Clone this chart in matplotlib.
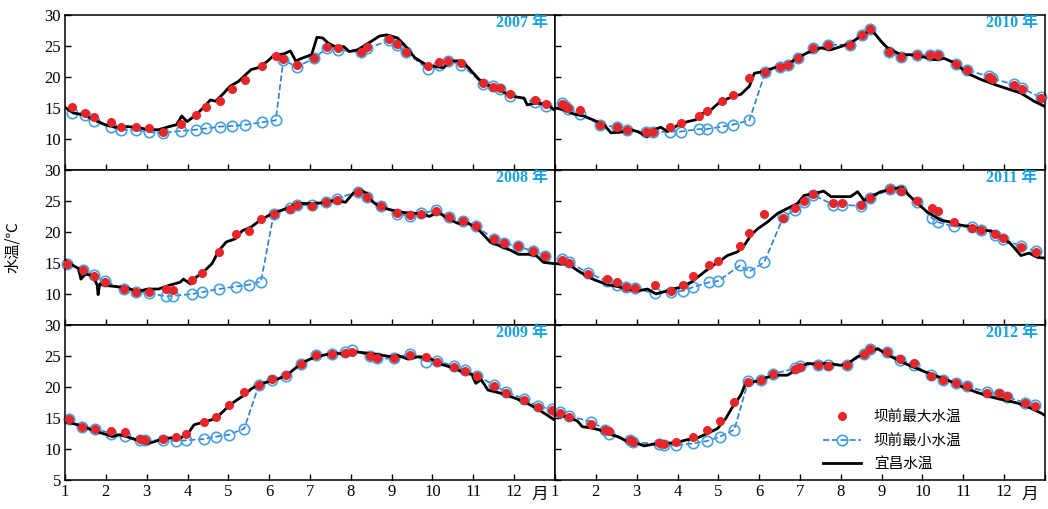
import matplotlib
matplotlib.use('Agg')
import matplotlib.pyplot as plt

# ─── Data (month as decimal, water temperature in °C) ───
# 宜昌水温: daily Yichang series, read at irregular points off the picture
YC_M_2007 = [1.0, 1.2, 1.46, 1.72, 1.98, 2.24, 2.51, 2.77, 3.03, 3.29, 3.55, 3.73, 3.86, 3.99, 4.21,
             4.38, 4.56, 4.69, 4.86, 5.04, 5.25, 5.56, 5.73, 5.95, 6.13, 6.35, 6.52, 6.65, 6.83, 7.04,
             7.17, 7.31, 7.44, 7.61, 7.83, 7.96, 8.18, 8.44, 8.7, 8.88, 9.14, 9.31, 9.57, 9.84, 10.05,
             10.27, 10.45, 10.71, 10.88, 11.14, 11.32, 11.67, 11.93, 12.24, 12.32, 12.54, 12.8, 12.98]
YC_T_2007 = [15.1, 14.2, 13.9, 13.1, 12.3, 11.9, 12.0, 11.9, 11.5, 11.5, 12.0, 12.3, 13.7, 12.8, 13.9,
             15.0, 16.3, 16.1, 17.2, 18.5, 19.3, 21.2, 21.5, 22.5, 23.6, 23.7, 24.2, 22.6, 23.1, 23.6,
             26.4, 26.3, 25.5, 24.9, 24.9, 24.1, 24.4, 25.5, 26.6, 26.8, 26.3, 25.2, 23.1, 22.0, 21.7,
             21.5, 22.6, 22.6, 21.5, 19.6, 18.8, 17.8, 16.9, 16.6, 15.5, 15.8, 15.6, 14.7]
YC_M_2008 = [1.02, 1.20, 1.33, 1.39, 1.50, 1.68, 1.79, 1.81, 1.85, 1.98, 2.24, 2.51, 2.77, 3.03, 3.29,
             3.55, 3.82, 3.90, 4.08, 4.21, 4.38, 4.60, 4.77, 4.95, 5.17, 5.34, 5.56, 5.78, 6.08, 6.43,
             6.69, 7.04, 7.31, 7.61, 7.87, 8.05, 8.22, 8.40, 8.53, 8.70, 8.96, 9.23, 9.49, 9.75, 9.92,
             10.14, 10.36, 10.62, 10.88, 11.14, 11.41, 11.67, 11.93, 12.10, 12.37, 12.54, 12.72, 12.98]
YC_T_2008 = [15.4, 14.6, 14.1, 12.4, 13.2, 13.0, 11.4, 9.9, 11.6, 11.4, 11.2, 11.0, 10.4, 10.8, 10.8,
             11.4, 11.9, 12.4, 11.6, 12.7, 13.5, 14.9, 17.0, 18.4, 18.9, 20.2, 20.8, 21.9, 23.0, 23.8,
             24.6, 24.6, 24.7, 25.1, 24.8, 26.2, 26.8, 26.2, 24.9, 24.1, 23.6, 23.2, 23.0, 23.0, 22.5,
             23.2, 22.2, 21.4, 21.4, 20.3, 18.4, 17.7, 17.0, 16.4, 16.4, 16.2, 15.1, 14.9]
YC_M_2009 = [1.0, 1.20, 1.46, 1.72, 1.98, 2.16, 2.33, 2.51, 2.68, 2.86, 3.03, 3.20, 3.38, 3.60, 3.82,
             3.99, 4.16, 4.43, 4.69, 4.91, 5.12, 5.39, 5.56, 5.75, 6.0, 6.26, 6.43, 6.69, 6.87, 7.04,
             7.31, 7.61, 7.83, 8.09, 8.35, 8.70, 8.96, 9.14, 9.40, 9.66, 9.92, 10.19, 10.45, 10.71, 10.97,
             11.06, 11.19, 11.36, 11.67, 12.02, 12.28, 12.54, 12.80, 12.96]
YC_T_2009 = [14.4, 14.1, 13.6, 12.9, 12.4, 12.0, 12.3, 12.0, 11.6, 11.3, 10.9, 11.2, 11.6, 11.8, 11.8,
             12.3, 13.9, 14.4, 14.9, 16.3, 17.5, 18.7, 19.7, 20.4, 20.9, 21.4, 21.9, 23.3, 24.1, 24.6,
             25.1, 25.5, 25.3, 25.7, 25.5, 25.2, 24.9, 25.1, 24.5, 24.9, 24.7, 23.7, 23.2, 22.5, 22.0,
             20.6, 21.2, 19.5, 19.0, 18.2, 17.5, 16.6, 15.5, 14.8]
YC_M_2010 = [1.02, 1.22, 1.47, 1.71, 1.96, 2.20, 2.37, 2.61, 2.86, 3.02, 3.25, 3.43, 3.59, 3.76, 4.00,
             4.24, 4.45, 4.57, 4.82, 5.06, 5.39, 5.55, 5.76, 5.88, 6.12, 6.37, 6.69, 6.94, 7.18, 7.51,
             7.76, 8.0, 8.24, 8.49, 8.69, 8.82, 8.98, 9.14, 9.47, 9.71, 10.04, 10.29, 10.53, 10.78, 11.10,
             11.43, 11.76, 12.08, 12.41, 12.73, 12.98]
YC_T_2010 = [15.0, 14.7, 14.0, 13.7, 13.0, 12.3, 11.0, 11.1, 11.5, 11.2, 10.4, 11.5, 11.9, 11.2, 12.2,
             12.8, 13.1, 14.0, 14.7, 16.1, 16.9, 17.2, 18.5, 20.6, 20.9, 21.5, 22.0, 23.1, 23.9, 24.7,
             24.4, 24.9, 25.5, 26.6, 27.4, 27.1, 25.8, 24.7, 23.6, 23.6, 23.2, 22.8, 23.0, 22.3, 20.6,
             19.6, 18.8, 18.1, 17.4, 16.1, 15.3]
YC_M_2011 = [1.02, 1.14, 1.31, 1.55, 1.80, 2.0, 2.29, 2.53, 2.78, 3.02, 3.27, 3.47, 3.63, 3.88, 4.08,
             4.33, 4.57, 4.82, 5.06, 5.22, 5.47, 5.63, 5.80, 5.96, 6.20, 6.45, 6.69, 6.94, 7.10, 7.35,
             7.58, 7.76, 8.0, 8.24, 8.41, 8.57, 8.73, 8.98, 9.31, 9.51, 9.67, 9.88, 10.12, 10.45, 10.69,
             10.94, 11.27, 11.43, 11.67, 11.92, 12.16, 12.41, 12.61, 12.82, 12.98]
YC_T_2011 = [14.9, 14.8, 14.9, 13.8, 12.8, 12.2, 11.5, 11.2, 10.8, 10.5, 10.8, 10.0, 10.3, 10.8, 11.1,
             11.9, 13.1, 14.4, 15.4, 16.2, 16.8, 17.8, 19.5, 20.5, 21.6, 23.0, 23.8, 24.6, 25.9, 26.2,
             26.6, 25.7, 25.7, 25.7, 26.5, 25.1, 25.7, 26.5, 27.0, 27.2, 25.9, 24.6, 23.2, 21.9, 21.6,
             21.1, 20.8, 20.3, 20.2, 19.2, 18.1, 16.2, 16.6, 15.9, 15.8]
YC_M_2012 = [1.02, 1.31, 1.55, 1.67, 1.88, 2.08, 2.29, 2.53, 2.78, 3.02, 3.18, 3.43, 3.76, 4.0, 4.24,
             4.49, 4.73, 4.98, 5.18, 5.35, 5.55, 5.67, 5.92, 6.12, 6.37, 6.69, 6.94, 7.18, 7.43, 7.67,
             8.0, 8.16, 8.41, 8.65, 8.90, 9.14, 9.47, 9.71, 10.04, 10.37, 10.69, 11.02, 11.35, 11.67, 12.0,
             12.33, 12.65, 12.90, 12.98]
YC_T_2012 = [15.5, 15.2, 14.5, 13.6, 13.4, 13.1, 12.5, 12.0, 11.2, 10.9, 10.5, 10.8, 10.9, 11.1, 11.5,
             11.8, 12.5, 13.3, 14.9, 16.8, 18.7, 20.6, 20.9, 21.4, 21.9, 21.9, 22.9, 23.8, 23.7, 23.8,
             23.5, 23.7, 24.9, 25.4, 26.2, 25.2, 24.1, 23.4, 22.5, 21.7, 20.9, 19.9, 19.1, 18.4, 17.9,
             17.4, 16.6, 15.8, 15.5]

# 坝前: dam-front profile dates, max and min temperature
DAM_M_2007 = [1.17, 1.48, 1.70, 2.13, 2.38, 2.75, 3.06, 3.40, 3.83, 4.20, 4.45, 4.79, 5.08, 5.42, 5.83,
              6.16, 6.35, 6.67, 7.09, 7.42, 7.68, 8.24, 8.40, 8.94, 9.12, 9.36, 9.88, 10.16, 10.39, 10.71,
              11.23, 11.47, 11.66, 11.91, 12.51, 12.78]
MAX_2007 = [15.1, 14.2, 13.5, 12.8, 12.0, 11.9, 11.7, 11.2, 12.4, 13.8, 15.1, 16.1, 18.0, 19.5, 21.7,
            23.4, 22.9, 22.0, 23.0, 24.9, 24.7, 24.1, 24.8, 26.1, 25.3, 24.1, 21.8, 22.4, 22.6, 22.3,
            19.0, 18.4, 18.3, 17.2, 16.3, 15.7]
MIN_2007 = [14.2, 13.9, 12.9, 11.9, 11.5, 11.4, 11.1, 11.0, 11.3, 11.5, 11.7, 12.0, 12.1, 12.3, 12.7,
            13.0, 22.8, 21.6, 23.0, 24.7, 24.4, 24.0, 24.6, 25.9, 25.1, 24.0, 21.3, 21.9, 22.6, 22.0,
            18.9, 18.5, 18.0, 17.0, 16.0, 15.3]
DAM_M_2008 = [1.04, 1.44, 1.70, 1.97, 2.44, 2.75, 3.06, 3.47, 3.64, 4.12, 4.36, 4.76, 5.18, 5.51, 5.80,
              6.11, 6.50, 6.69, 7.06, 7.39, 7.65, 8.18, 8.40, 8.73, 9.12, 9.44, 9.71, 10.08, 10.40, 10.75,
              11.06, 11.51, 11.76, 12.09, 12.47, 12.76]
MAX_2008 = [14.9, 13.8, 12.9, 11.9, 10.8, 10.4, 10.3, 10.8, 10.6, 12.3, 13.4, 16.8, 19.6, 20.2, 22.1,
            22.9, 23.7, 24.3, 24.2, 24.8, 25.2, 26.4, 25.6, 24.2, 23.0, 22.7, 22.9, 23.4, 22.4, 21.8,
            20.9, 18.9, 18.2, 17.7, 16.9, 16.1]
MIN_2008 = [14.9, 13.9, 13.0, 12.1, 10.8, 10.4, 10.2, 9.6, 9.7, 10.0, 10.3, 10.8, 11.2, 11.5, 12.0,
            22.9, 23.8, 24.4, 24.3, 24.9, 25.4, 26.5, 25.6, 24.2, 22.9, 22.6, 23.0, 23.5, 22.4, 21.8,
            20.9, 18.9, 18.2, 17.7, 16.9, 16.2]
DAM_M_2009 = [1.11, 1.42, 1.74, 2.13, 2.46, 2.83, 2.97, 3.40, 3.73, 3.97, 4.40, 4.69, 5.02, 5.39, 5.75,
              6.07, 6.40, 6.78, 7.15, 7.55, 7.85, 8.04, 8.48, 8.64, 9.05, 9.46, 9.85, 10.12, 10.52, 10.80,
              11.10, 11.51, 11.80, 12.24, 12.58, 12.93, 13.05]
MAX_2009 = [14.8, 13.5, 13.3, 12.9, 12.7, 11.6, 11.4, 11.6, 12.0, 12.5, 14.4, 15.1, 17.1, 19.2, 20.3,
            21.3, 21.9, 23.7, 25.2, 25.3, 25.5, 25.7, 25.0, 24.7, 24.7, 25.2, 24.9, 24.0, 23.3, 22.6,
            21.7, 20.2, 19.1, 17.9, 16.8, 16.3, 15.7]
MIN_2009 = [14.9, 13.6, 13.3, 12.5, 12.1, 11.5, 11.4, 11.4, 11.3, 11.4, 11.6, 12.0, 12.3, 13.3, 20.4,
            21.2, 21.8, 23.7, 25.1, 25.3, 25.6, 25.9, 25.0, 24.6, 24.6, 25.4, 24.1, 24.2, 23.4, 22.7,
            21.8, 20.3, 19.2, 18.1, 16.9, 16.4, 15.9]
DAM_M_2010 = [1.18, 1.24, 1.31, 1.62, 2.11, 2.51, 2.76, 3.22, 3.39, 3.82, 4.08, 4.53, 4.72, 5.10, 5.35,
              5.76, 6.15, 6.51, 6.71, 6.96, 7.33, 7.69, 8.22, 8.53, 8.72, 9.18, 9.47, 9.86, 10.19, 10.39,
              10.82, 11.09, 11.63, 11.69, 12.24, 12.43, 12.90]
MAX_2010 = [15.65, 15.3, 15.0, 14.6, 12.3, 11.9, 11.5, 11.2, 11.2, 12.0, 12.6, 13.7, 14.5, 16.2, 17.1,
            19.8, 20.8, 21.6, 21.9, 23.1, 24.6, 25.2, 25.2, 26.8, 27.8, 24.1, 23.2, 23.6, 23.5, 23.5,
            22.1, 21.1, 20.0, 19.7, 18.7, 18.1, 16.6]
MIN_2010 = [15.8, 15.4, 14.9, 14.0, 12.3, 11.9, 11.4, 11.1, 11.1, 11.2, 11.2, 11.6, 11.6, 12.0, 12.3,
            13.0, 20.8, 21.6, 21.9, 23.1, 24.6, 25.2, 25.2, 26.8, 27.8, 24.1, 23.2, 23.6, 23.5, 23.5,
            22.1, 21.1, 20.1, 19.8, 18.8, 18.2, 16.7]
DAM_M_2011 = [1.18, 1.35, 1.81, 2.27, 2.53, 2.73, 2.96, 3.45, 3.85, 4.14, 4.38, 4.78, 5.00, 5.53, 5.76,
              6.12, 6.59, 6.87, 7.09, 7.31, 7.82, 8.02, 8.49, 8.72, 9.21, 9.47, 9.86, 10.24, 10.37, 10.76,
              11.22, 11.43, 11.78, 11.98, 12.41, 12.78]
MAX_2011 = [15.5, 15.0, 13.2, 12.4, 11.9, 11.2, 11.0, 11.4, 10.5, 11.5, 12.9, 14.6, 15.3, 17.7, 19.9,
            22.9, 22.3, 23.8, 25.0, 26.1, 24.6, 24.7, 24.4, 25.5, 26.9, 26.6, 25.0, 23.9, 23.4, 21.6,
            20.6, 20.4, 19.6, 19.1, 17.6, 16.8]
MIN_2011 = [15.7, 15.1, 13.4, 12.1, 11.5, 11.2, 10.9, 10.1, 10.4, 10.5, 11.1, 11.9, 12.1, 14.6, 13.6,
            15.1, 22.4, 23.5, 24.9, 26.0, 24.4, 24.4, 24.2, 25.5, 26.9, 26.8, 24.9, 22.2, 21.6, 20.9,
            20.8, 20.4, 19.5, 18.9, 17.7, 16.9]
DAM_M_2012 = [1.13, 1.35, 1.89, 2.23, 2.33, 2.84, 2.90, 3.55, 3.67, 3.96, 4.39, 4.73, 5.04, 5.39, 5.73,
              6.04, 6.35, 6.87, 7.0, 7.43, 7.69, 8.16, 8.57, 8.72, 9.12, 9.44, 9.78, 10.20, 10.51, 10.81,
              11.09, 11.59, 11.88, 12.06, 12.51, 12.76]
MAX_2012 = [15.8, 15.2, 14.0, 13.0, 12.9, 11.5, 11.2, 10.9, 10.8, 11.2, 11.9, 13.0, 14.5, 17.6, 20.8,
            21.1, 22.1, 22.9, 23.3, 23.5, 23.4, 23.5, 25.3, 26.1, 25.6, 24.5, 23.8, 21.8, 21.2, 20.6,
            20.1, 19.1, 19.0, 18.5, 17.4, 17.0]
MIN_2012 = [15.9, 15.3, 14.4, 13.1, 12.5, 11.4, 11.1, 10.8, 10.7, 10.6, 10.9, 11.3, 12.0, 13.1, 20.9,
            21.1, 22.1, 23.0, 23.4, 23.6, 23.5, 23.6, 25.4, 26.2, 25.7, 24.4, 23.6, 21.9, 21.2, 20.6,
            20.1, 19.2, 18.9, 18.4, 17.5, 17.1]

YEARS = [2007, 2010, 2008, 2011, 2009, 2012]
MONTH_TICKS = list(range(1, 14))
MONTH_LABELS = [str(m) for m in range(1, 13)] + ['']
TEMP_TICKS = [5, 10, 15, 20, 25, 30]

SERIES = {
    2007: (YC_M_2007, YC_T_2007, DAM_M_2007, MAX_2007, MIN_2007),
    2008: (YC_M_2008, YC_T_2008, DAM_M_2008, MAX_2008, MIN_2008),
    2009: (YC_M_2009, YC_T_2009, DAM_M_2009, MAX_2009, MIN_2009),
    2010: (YC_M_2010, YC_T_2010, DAM_M_2010, MAX_2010, MIN_2010),
    2011: (YC_M_2011, YC_T_2011, DAM_M_2011, MAX_2011, MIN_2011),
    2012: (YC_M_2012, YC_T_2012, DAM_M_2012, MAX_2012, MIN_2012),
}

# ─── Style ───
RED = '#e8262a'
BLUE_EDGE = '#45a2e0'
BLUE_LINE = '#2f7fcc'
TITLE_BLUE = '#17a3e2'
SERIF = ['Liberation Serif', 'DejaVu Serif']
CJK = ['Noto Sans CJK SC', 'DejaVu Sans']

W, H = 1048, 509
fig = plt.figure(figsize=(W / 100, H / 100), dpi=100)

LEFTS = [65, 555]
RIGHT = 1045
TOPS = [15, 170, 325]
PH = 155

for idx, year in enumerate(YEARS):
    row, col = divmod(idx, 2)
    x0 = LEFTS[col]
    x1 = LEFTS[1] if col == 0 else RIGHT
    ax = fig.add_axes([x0 / W, 1 - (TOPS[row] + PH) / H, (x1 - x0) / W, PH / H])
    yc_m, yc_t, dm, tmax, tmin = SERIES[year]

    ax.plot(dm, tmin, ls='--', lw=1.2, color=BLUE_LINE, marker='o', ms=7.5,
            mfc='none', mec=BLUE_EDGE, mew=1.2, zorder=2, clip_on=False,
            label='坝前最小水温')
    ax.plot(yc_m, yc_t, color='black', lw=2.0, zorder=3, label='宜昌水温')
    ax.plot(dm, tmax, ls='none', marker='o', ms=5.5, color=RED, zorder=4,
            clip_on=False, label='坝前最大水温')

    ax.set_xlim(1, 13)
    ax.set_ylim(5, 30)
    ax.set_xticks(MONTH_TICKS)
    ax.set_yticks(TEMP_TICKS)
    ax.tick_params(direction='in', length=4, width=1.0, labelsize=12, pad=3)
    for s in ax.spines.values():
        s.set_linewidth(1.1)

    if row == 2:
        ax.set_xticklabels(MONTH_LABELS, fontfamily=SERIF)
        ax.annotate('月', xy=(12.62, 0), xycoords=('data', 'axes fraction'),
                    xytext=(0, -4), textcoords='offset points', ha='center', va='top',
                    fontsize=12, family=CJK)
    else:
        ax.set_xticklabels([])

    if col == 0:
        labels = [str(t) for t in TEMP_TICKS]
        if row < 2:
            labels[0] = ''
        ax.set_yticklabels(labels, fontfamily=SERIF)
    else:
        ax.set_yticklabels([])

    ax.text(0.985, 0.95, f'{year} 年', transform=ax.transAxes, ha='right', va='center',
            fontsize=11.5, fontweight='bold', color=TITLE_BLUE,
            family=['Liberation Serif', 'Noto Sans CJK SC'])

    if year == 2012:
        h, l = ax.get_legend_handles_labels()
        order = [2, 0, 1]
        ax.legend([h[i] for i in order], [l[i] for i in order], loc='upper left',
                  bbox_to_anchor=(0.52, 0.535), frameon=False, handlelength=2.6,
                  labelspacing=0.65, handletextpad=0.9, prop={'family': CJK, 'size': 10.5})

fig.text(12 / W, 1 - 247 / H, '水温/℃', rotation=90, ha='center', va='center',
         fontsize=11, family=CJK)

fig.savefig('out.png', dpi=100)
